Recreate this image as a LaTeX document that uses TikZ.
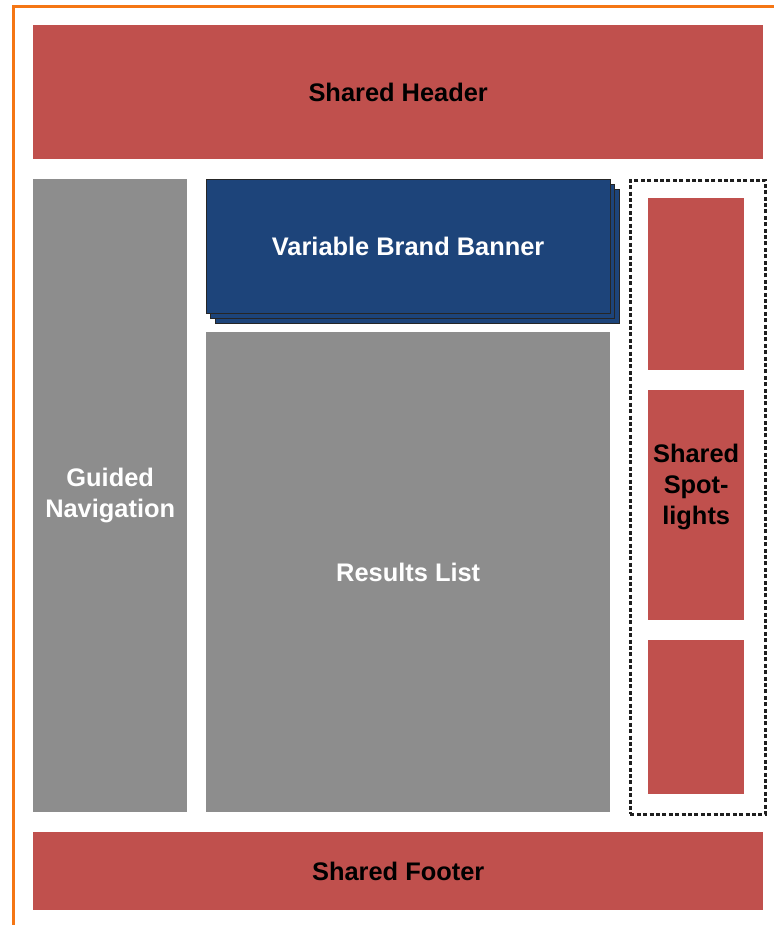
\documentclass[tikz,border=0pt]{standalone}
\usepackage{fontspec}
\setmainfont{Liberation Sans}
\definecolor{boxred}{RGB}{192,80,77}
\definecolor{boxgray}{RGB}{141,141,141}
\definecolor{boxblue}{RGB}{29,68,122}
\definecolor{frameorange}{RGB}{245,118,20}
\definecolor{dashgray}{RGB}{30,30,30}
\begin{document}
\begin{tikzpicture}[x=1bp,y=-1bp,
  every node/.style={font=\bfseries\fontsize{25.5}{31}\selectfont, align=center, inner sep=0pt},
  block/.style={rectangle, draw=none, anchor=north west},
  redbox/.style={block, fill=boxred, text=black},
  graybox/.style={block, fill=boxgray, text=white},
  bluelayer/.style={block, fill=boxblue, draw=black!85, line width=1.3bp, text=white},
  spotframe/.style={draw=dashgray, line width=2.8bp, dash pattern=on 4bp off 2.4bp}
]
\useasboundingbox (0,0) rectangle (774,925);
\clip (0,0) rectangle (774,925);
\fill[white] (0,0) rectangle (774,925);
% outer frame
\draw[frameorange, line width=3.6bp] (13.5,6.5) rectangle (800,960);

% header / footer
\node[redbox, minimum width=730bp, minimum height=134bp] (header) at (33,25) {Shared Header};
\node[redbox, minimum width=730bp, minimum height=78bp] (footer) at (33,832) {Shared Footer};

% guided navigation
\node[graybox, minimum width=154bp, minimum height=633bp] (nav) at (33,179) {Guided\\Navigation};

% banner stack
\node[bluelayer, minimum width=404bp, minimum height=134bp] (banner3) at (215,189) {};
\node[bluelayer, minimum width=404bp, minimum height=134bp] (banner2) at (210,184) {};
\node[bluelayer, minimum width=404bp, minimum height=134bp] (banner) at (205.5,179) {Variable Brand Banner};

% results list
\node[graybox, minimum width=404bp, minimum height=480bp] (results) at (206,332) {Results List};

% spotlights
\node[spotframe, rectangle, anchor=north west, minimum width=135bp, minimum height=634bp] (spotframe) at (629,179) {};
\node[redbox, minimum width=96bp, minimum height=172bp] (spot1) at (648,198) {};
\node[redbox, minimum width=96bp, minimum height=230bp] (spot2) at (648,390) {};
\node[redbox, minimum width=96bp, minimum height=154bp] (spot3) at (648,640) {};
\node[text=black] (spotlabel) at ([yshift=18bp]spot2.center) {Shared\\Spot-\\lights};
\end{tikzpicture}
\end{document}
